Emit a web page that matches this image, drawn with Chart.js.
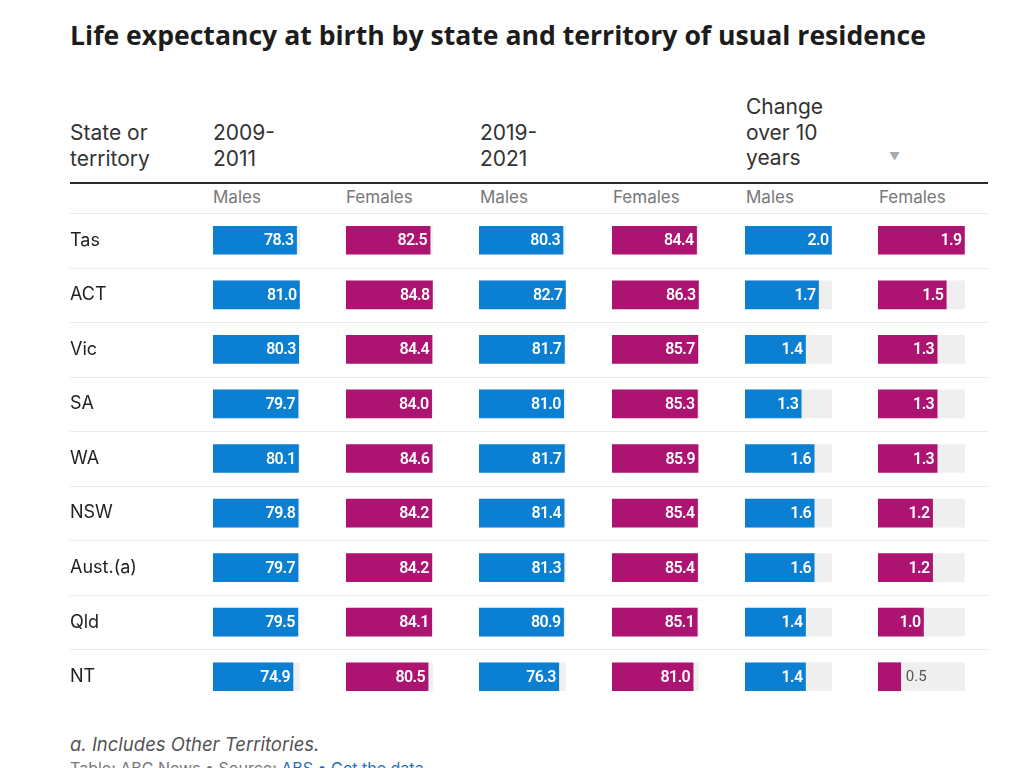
<!DOCTYPE html>
<html>
<head>
<meta charset="utf-8">
<script src="https://cdn.jsdelivr.net/npm/chart.js@4"></script>
<style>
  html, body { margin: 0; padding: 0; background: #fff; width: 1024px; height: 768px; overflow: hidden; }
  body { position: relative; font-family: Inter, "Open Sans", sans-serif; color: #222; }
  .abs { position: absolute; white-space: nowrap; }
  .title { left: 70px; top: 17px; font-family: "Open Sans", sans-serif; font-size: 26.6px; line-height: 36px; font-weight: 700; color: #1c1c1c; letter-spacing: 0px; }
  .head { font-size: 21px; line-height: 25.5px; color: #333; }
  .sub { top: 187px; font-size: 17px; line-height: 20px; color: #777; }
  .rule { left: 70px; top: 182px; width: 918px; height: 2px; background: #2a2a2a; }
  .tri { left: 889px; top: 149px; font-size: 11px; color: #aaa; }
  .note { left: 70px; top: 733px; font-size: 18.5px; line-height: 22px; font-style: italic; color: #555; }
  .src { left: 70px; top: 758px; font-size: 16px; line-height: 20px; color: #777; }
  .src span { color: #2a6ebb; }
  #wrap { position: absolute; left: 70px; top: 213px; width: 941px; height: 491px; }
</style>
</head>
<body>
<div class="abs title">Life expectancy at birth by state and territory of usual residence</div>

<div class="abs head" style="left:70px; top:120px;">State or<br>territory</div>
<div class="abs head" style="left:213px; top:120px;">2009-<br>2011</div>
<div class="abs head" style="left:480px; top:120px;">2019-<br>2021</div>
<div class="abs head" style="left:746px; top:94px;">Change<br>over 10<br>years</div>
<div class="abs tri">&#9660;</div>
<div class="abs rule"></div>

<div class="abs sub" style="left:213px;">Males</div>
<div class="abs sub" style="left:346px;">Females</div>
<div class="abs sub" style="left:480px;">Males</div>
<div class="abs sub" style="left:613px;">Females</div>
<div class="abs sub" style="left:746px;">Males</div>
<div class="abs sub" style="left:879px;">Females</div>

<div id="wrap"><canvas id="tabela"></canvas></div>

<div class="abs note">a. Includes Other Territories.</div>
<div class="abs src">Table: ABC News &bull; Source: <span>ABS &bull; Get the data</span></div>

<script>
const states = ['Tas', 'ACT', 'Vic', 'SA', 'WA', 'NSW', 'Aust.(a)', 'Qld', 'NT'];
const males2009 = [78.3, 81.0, 80.3, 79.7, 80.1, 79.8, 79.7, 79.5, 74.9];
const females2009 = [82.5, 84.8, 84.4, 84.0, 84.6, 84.2, 84.2, 84.1, 80.5];
const males2019 = [80.3, 82.7, 81.7, 81.0, 81.7, 81.4, 81.3, 80.9, 76.3];
const females2019 = [84.4, 86.3, 85.7, 85.3, 85.9, 85.4, 85.4, 85.1, 81.0];
const malesChange = [2.0, 1.7, 1.4, 1.3, 1.6, 1.6, 1.6, 1.4, 1.4];
const femalesChange = [1.9, 1.5, 1.3, 1.3, 1.3, 1.2, 1.2, 1.0, 0.5];

const BLUE = '#0b7fd1';
const MAGENTA = '#ad1370';
const TRACK_COLOR = '#efefef';
const TRACK = 0.65; // fração de cada coluna ocupada pela barra cheia

const columns = [
    { values: males2009, color: BLUE },
    { values: females2009, color: MAGENTA },
    { values: males2019, color: BLUE },
    { values: females2019, color: MAGENTA },
    { values: malesChange, color: BLUE },
    { values: femalesChange, color: MAGENTA }
];

const datasets = [];
const scales = {
    y: {
        type: 'category',
        position: 'left',
        offset: true,
        grid: { display: false },
        border: { display: false },
        ticks: {
            crossAlign: 'far',
            padding: 0,
            color: '#222',
            font: { family: 'Inter', size: 18 }
        },
        afterFit: function(scale) {
            scale.width = 143;
            scale.paddingTop = 0;
            scale.paddingBottom = 0;
        }
    }
};

columns.forEach(function(col, i) {
    const colMax = Math.max.apply(null, col.values);
    datasets.push({
        data: col.values,
        xAxisID: 'x' + i,
        backgroundColor: col.color,
        barThickness: 28,
        grouped: false,
        order: 0
    });
    datasets.push({
        data: col.values.map(function() { return colMax; }),
        xAxisID: 'x' + i,
        backgroundColor: TRACK_COLOR,
        barThickness: 28,
        grouped: false,
        order: 1,
        isTrack: true
    });
    scales['x' + i] = {
        type: 'linear',
        position: 'bottom',
        stack: 'colunas',
        stackWeight: 1,
        display: false,
        min: 0,
        max: colMax / TRACK
    };
});

// Linhas separadoras entre as linhas da tabela
const separadores = {
    id: 'separadores',
    beforeDatasetsDraw: function(chart) {
        const ctx = chart.ctx;
        const y = chart.scales.y;
        const rowH = y.height / states.length;
        ctx.save();
        ctx.strokeStyle = '#ebebeb';
        ctx.lineWidth = 1;
        for (let k = 0; k < states.length; k++) {
            const py = Math.round(y.top + k * rowH) + 0.5;
            ctx.beginPath();
            ctx.moveTo(0, py);
            ctx.lineTo(918, py);
            ctx.stroke();
        }
        ctx.restore();
    }
};

// Rótulos de valor dentro das barras
const rotulos = {
    id: 'rotulos',
    afterDatasetsDraw: function(chart) {
        const ctx = chart.ctx;
        ctx.save();
        ctx.textBaseline = 'middle';
        chart.data.datasets.forEach(function(ds, i) {
            if (ds.isTrack) return;
            const meta = chart.getDatasetMeta(i);
            meta.data.forEach(function(bar, j) {
                const txt = ds.data[j].toFixed(1);
                ctx.font = '600 16px Roboto';
                ctx.letterSpacing = '-0.6px';
                const tw = ctx.measureText(txt).width;
                const left = Math.min(bar.base, bar.x);
                const right = Math.max(bar.base, bar.x);
                if (right - left >= tw + 8) {
                    ctx.fillStyle = '#fff';
                    ctx.textAlign = 'right';
                    ctx.fillText(txt, right - 3, bar.y + 1);
                } else {
                    ctx.font = '400 15px Roboto';
                    ctx.letterSpacing = '0px';
                    ctx.fillStyle = '#555';
                    ctx.textAlign = 'left';
                    ctx.fillText(txt, right + 5, bar.y + 1);
                }
            });
        });
        ctx.restore();
    }
};

new Chart(document.getElementById('tabela'), {
    type: 'bar',
    data: {
        labels: states,
        datasets: datasets
    },
    options: {
        indexAxis: 'y',
        responsive: true,
        maintainAspectRatio: false,
        animation: false,
        layout: { padding: 0 },
        plugins: {
            legend: { display: false },
            tooltip: { enabled: false }
        },
        scales: scales
    },
    plugins: [separadores, rotulos]
});
</script>
</body>
</html>
